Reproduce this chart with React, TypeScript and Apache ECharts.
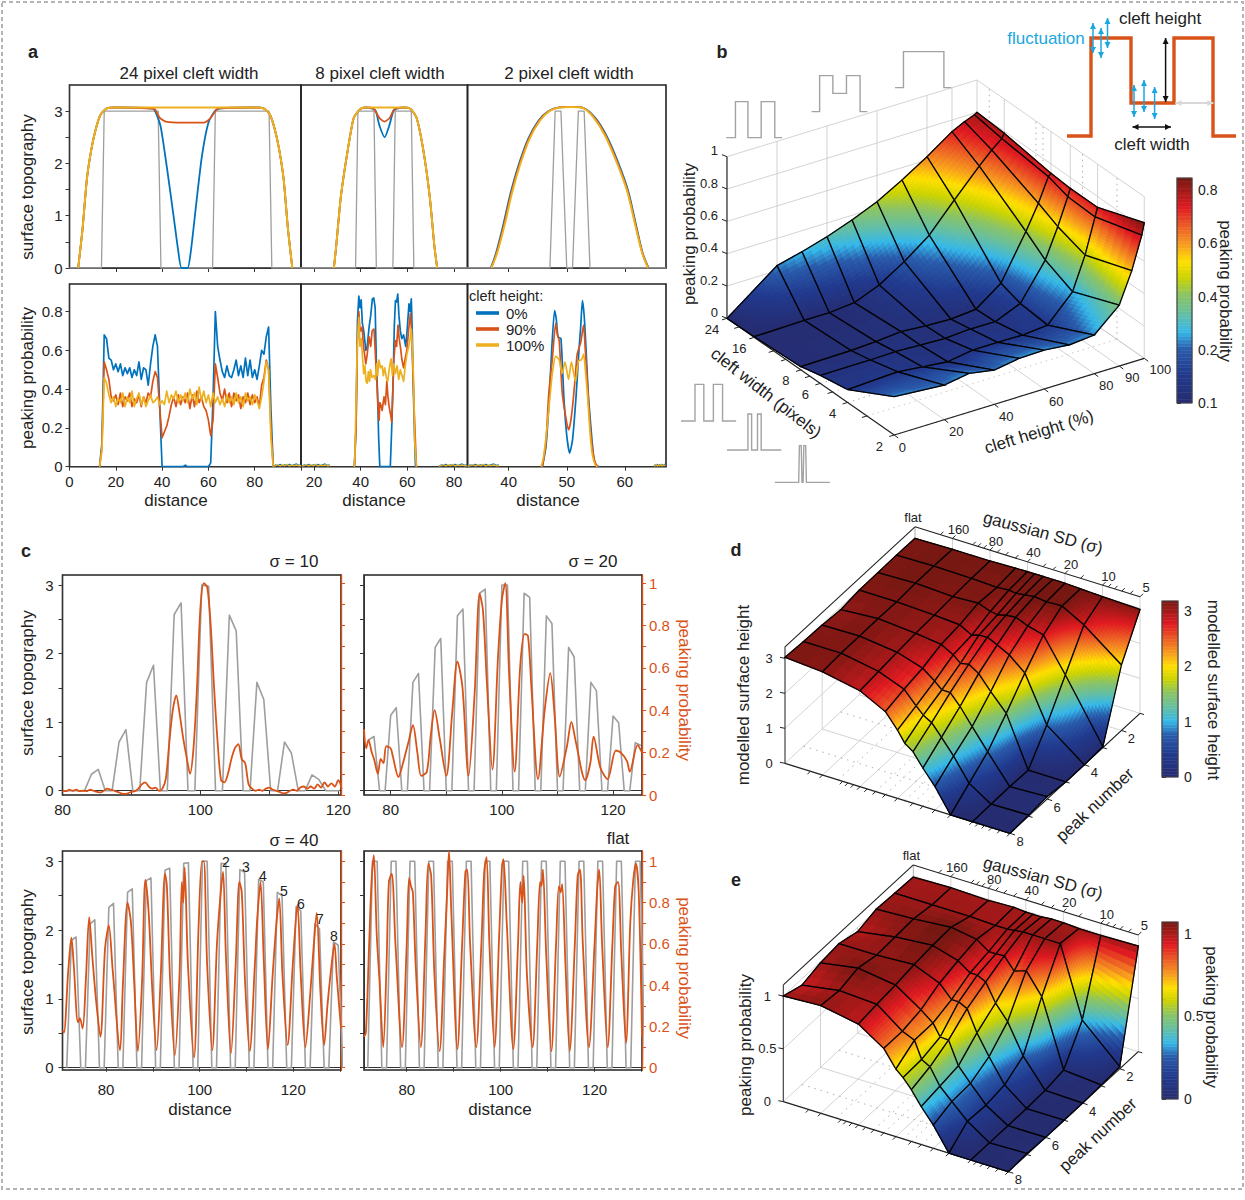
import React, { useEffect, useRef } from "react";
import * as echarts from "echarts";

const FF = '"Liberation Sans", Arial, sans-serif';
const BLUE = "#0072bd", RED = "#d95319", YEL = "#edb120", GRAY = "#9e9e9e", CY = "#1aa7e0";
type Pt = [number, number];
const atX = (start: number, step: number, ys: number[]): Pt[] => ys.map((y, i) => [start + i * step, y] as Pt);

// ---------- panel a : top row ----------
const a1Gray: Pt[] = [[0,0],[13.8,0],[15,3],[38.3,3],[39.5,0],[61.8,0],[63,3],[86.2,3],[87.4,0],[100,0]];
const a1OutL: Pt[] = [[3.75,0],[5.6,.73],[7.5,1.7],[9.4,2.26],[11.3,2.65],[13.5,2.94],[16,3.05],[20,3.07]];
const a1OutR: Pt[] = [[80,3.07],[84,3.05],[86.5,2.94],[88.7,2.65],[90.6,2.26],[92.5,1.7],[94.4,.73],[96.25,0]];
const a1BlueMid: Pt[] = [[36,3.05],[37,3],[39.4,2.7],[42.2,1.88],[45,.98],[46.9,.35],[48.4,0],[51,0],[52.5,.35],[54.8,1.25],[57.2,2.14],[60,2.78],[62.8,3],[64.7,3.05]];
const a1RedMid: Pt[] = [[36,3.05],[37,3.03],[39,2.87],[41.6,2.8],[48.8,2.78],[58,2.78],[61,2.87],[63.4,3.03],[65,3.06]];
const a1YelMid: Pt[] = [[50,3.07]];
const a2Gray: Pt[] = [[14.4,0],[37.8,0],[38.8,3],[45.7,3],[46.7,0],[53.8,0],[54.8,3],[61.7,3],[62.8,0],[85.8,0]];
const a2OutL: Pt[] = [[28.5,0],[29.5,.42],[31.5,1.37],[34.5,2.27],[37,2.87],[39.8,3.04],[42,3.07]];
const a2OutR: Pt[] = [[59,3.07],[61.5,3.04],[64,2.87],[66.8,2.27],[69.6,1.37],[71.6,.42],[72.8,0]];
const a2BlueMid: Pt[] = [[45,3.05],[46.5,3],[48,2.73],[50.3,2.5],[52.3,2.73],[54,3],[55.5,3.05]];
const a2RedMid: Pt[] = [[45.5,3.05],[48,2.87],[50.2,2.8],[52.4,2.87],[54.5,3.04]];
const a2YelMid: Pt[] = [[50,3.07]];
const a3Gray: Pt[] = [[32.9,0],[47.1,0],[48,3],[49,3],[50,0],[51,0],[52,3],[53,3],[54,0],[67.1,0]];
const a3Blue: Pt[] = [[36.9,0],[37.8,.28],[39.05,.82],[40.25,1.4],[41.65,1.95],[43.35,2.47],[45.15,2.82],[46.8,3],[48.7,3.07],[50.8,3.08],[52.9,3.06],[54.85,2.88],[56.85,2.53],[58.85,2.02],[60.6,1.47],[61.95,.82],[63.1,.28],[64.1,0]];
const a3Red: Pt[] = [[37,0],[37.9,.28],[39.17,.82],[40.37,1.4],[41.77,1.95],[43.47,2.47],[45.27,2.82],[46.9,3],[48.75,3.07],[50.8,3.08],[52.85,3.06],[54.72,2.88],[56.72,2.53],[58.72,2.02],[60.5,1.47],[61.87,.82],[63.05,.28],[64.05,0]];
const a3Yel: Pt[] = [[37,0],[38,.28],[39.3,.82],[40.5,1.4],[41.9,1.95],[43.6,2.47],[45.4,2.82],[47,3],[48.8,3.07],[50.8,3.08],[52.8,3.06],[54.6,2.88],[56.6,2.53],[58.6,2.02],[60.4,1.47],[61.8,.82],[63,.28],[64,0]];

// ---------- panel a : bottom row ----------
const b1Blue = [0,.12,.68,.66,.56,.55,.5,.53,.49,.53,.47,.51,.48,.51,.46,.5,.47,.54,.45,.51,.5,.42,.53,.62,.68,.62,.3,0,0,0,0,0,0,0,0,0,0,.008,0,0,0,0,0,0,0,0,0,0,.02,.35,.8,.62,.55,.49,.46,.52,.47,.46,.5,.55,.47,.52,.46,.56,.47,.55,.46,.5,.45,.52,.6,.58,.67,.72,.3,0];
const b1Red = [0,.1,.54,.5,.45,.36,.34,.37,.32,.38,.31,.36,.34,.38,.31,.35,.33,.37,.31,.36,.33,.38,.36,.44,.49,.46,.3,.15,.18,.21,.26,.32,.36,.31,.37,.32,.36,.33,.38,.3,.37,.31,.39,.33,.36,.31,.29,.24,.16,.24,.53,.46,.38,.34,.4,.33,.38,.31,.38,.34,.37,.3,.36,.33,.38,.32,.37,.33,.36,.31,.42,.46,.55,.5,.2,0];
const b1Yel = [0,.08,.46,.43,.37,.33,.36,.31,.35,.33,.38,.31,.36,.33,.39,.31,.35,.38,.32,.36,.31,.34,.37,.33,.34,.36,.32,.34,.32,.39,.33,.37,.35,.39,.33,.37,.34,.38,.33,.4,.35,.38,.32,.41,.34,.39,.33,.37,.31,.38,.33,.36,.32,.35,.31,.37,.33,.36,.32,.38,.33,.36,.31,.38,.34,.36,.32,.37,.34,.3,.36,.44,.54,.5,.15,0];
const floorA = [.002,.009,.006,.012,.005,.01,.007,.012,.006,.01,.014,.007,.01];
const floorB = [.003,.005,.01,.004,.009,.005,.012,.004,.008,.006,.009,.005,.006];
const b2Blue: Pt[] = [[37.3,0],[38,.2],[38.6,.75],[39.2,.88],[39.7,.82],[40.2,.86],[40.7,.74],[41.3,.7],[42.2,.6],[42.8,.62],[43.6,.72],[44.3,.78],[45,.865],[45.6,.87],[46.2,.82],[46.7,.55],[47.2,.39],[47.7,.15],[48.2,0],[52.7,0],[53.3,.2],[53.9,.44],[54.4,.72],[54.9,.857],[55.4,.85],[55.9,.89],[56.4,.78],[57,.7],[57.6,.66],[58.4,.68],[59.3,.62],[59.9,.7],[60.7,.84],[61.2,.8],[61.7,.865],[62.1,.7],[62.5,.44],[63,.2],[63.5,0]];
const b2Red: Pt[] = [[37.3,0],[38,.2],[38.6,.65],[39.2,.8],[39.6,.72],[40,.7],[40.6,.72],[41.2,.62],[42.2,.53],[42.8,.58],[43.6,.67],[44.3,.62],[44.9,.7],[45.7,.71],[46.3,.58],[46.9,.44],[47.4,.32],[47.9,.24],[48.2,.33],[48.6,.32],[49.2,.29],[50,.36],[50.6,.32],[51.2,.44],[51.7,.36],[52.2,.31],[52.8,.27],[53.3,.23],[53.8,.4],[54.2,.55],[54.9,.65],[55.4,.62],[56,.73],[56.5,.66],[57,.62],[57.7,.55],[58.4,.51],[59.1,.56],[59.8,.6],[60.5,.7],[61.3,.79],[61.7,.72],[62,.62],[62.5,.45],[63,.27],[63.9,0]];
const b2Yel: Pt[] = [[37.1,0],[37.5,.05],[37.9,.27],[38.5,.62],[39.2,.77],[39.7,.62],[40.2,.66],[40.7,.58],[41.3,.48],[41.8,.52],[42.3,.44],[42.8,.43],[43.3,.49],[43.8,.44],[44.2,.5],[44.9,.46],[45.7,.47],[46.3,.45],[46.9,.53],[47.3,.47],[47.8,.55],[48.5,.51],[49.2,.52],[49.7,.47],[50.3,.51],[51,.46],[51.6,.44],[52.3,.51],[53,.556],[53.6,.47],[54.2,.53],[54.9,.48],[55.6,.52],[56.3,.45],[57,.5],[57.7,.47],[58.4,.44],[59.1,.52],[59.8,.58],[60.6,.62],[61.2,.66],[61.7,.71],[62.2,.6],[62.7,.44],[63.2,.12],[63.9,0]];
const b3Blue: Pt[] = [[45.8,0],[46.4,.1],[46.9,.31],[47.4,.6],[47.9,.805],[48.2,.76],[48.5,.67],[49,.66],[49.5,.36],[50,.16],[50.5,.07],[51,.14],[51.6,.36],[52.1,.6],[52.4,.72],[52.7,.857],[53,.78],[53.3,.62],[53.7,.38],[54.2,.19],[54.6,.06],[55,.01],[55.6,0]];
const b3Red: Pt[] = [[45.8,0],[46.4,.12],[46.9,.375],[47.5,.55],[48.1,.74],[48.4,.68],[48.7,.65],[49.2,.39],[49.7,.28],[50.3,.19],[50.6,.22],[51,.31],[51.4,.44],[51.8,.58],[52.4,.64],[52.9,.73],[53.2,.6],[53.6,.41],[54,.22],[54.4,.1],[54.9,.02],[55.4,0]];
const b3Yel: Pt[] = [[45.6,0],[46,.05],[46.6,.2],[47.2,.39],[47.6,.5],[48.1,.57],[48.7,.55],[49.2,.48],[49.7,.54],[50.3,.45],[50.8,.54],[51.5,.44],[52.1,.55],[52.5,.55],[52.9,.58],[53.2,.5],[53.6,.36],[54,.18],[54.4,.065],[54.9,.01],[55.3,0]];

// ---------- panel c ----------
const c1Gray = [0,0,0,0,.24,.31,0,0,.71,.89,0,0,1.58,1.83,0,0,2.57,2.74,0,0,3,2.98,0,0,2.56,2.33,0,0,1.58,1.33,0,0,.71,.55,0,0,.23,.16,0,0,0];
const c1Org = [.02,.018,.025,.02,.025,.018,.02,.018,.025,.02,.015,.012,.02,.03,.025,.02,.015,.008,.005,.008,.015,.018,.03,.05,.06,.04,.03,.035,.02,.03,.08,.25,.4,.47,.38,.27,.18,.1,.22,.5,.88,1,.98,.8,.5,.25,.07,.06,.1,.17,.22,.24,.17,.15,.05,.03,.02,.025,.02,.03,.035,.025,.02,.015,.008,.01,.02,.025,.02,.035,.04,.03,.04,.03,.05,.035,.06,.04,.055,.04,.07,.03];
const c2Gray = [.74,.79,0,0,1.1,1.21,0,0,1.58,1.71,0,0,2.09,2.22,0,0,2.55,2.65,0,0,2.88,2.94,0,0,3,3,0,0,2.88,2.82,0,0,2.55,2.44,0,0,2.09,1.95,0,0,1.58,1.46,0,0,1.09,.99,0,0,.7,.66];
const c2Org: Pt[] = [[75.2,.31],[75.6,.22],[76,.26],[76.6,.2],[77,.17],[77.7,.1],[78.2,.17],[78.7,.15],[79.2,.23],[80,.22],[80.4,.18],[81.4,.085],[82,.13],[83.2,.25],[84,.33],[84.8,.2],[85.5,.09],[86.5,.11],[87.2,.28],[87.9,.4],[88.8,.27],[90,.09],[91.1,.4],[92,.63],[92.9,.51],[94,.09],[95.1,.48],[96,.95],[96.6,.87],[97.3,.53],[98.3,.12],[99.3,.65],[100,.92],[100.6,1],[101.3,.57],[102.3,.11],[103.3,.61],[104.1,.76],[104.7,.75],[105.3,.51],[106.5,.075],[107.7,.4],[108.7,.575],[109.5,.37],[110.4,.087],[111.7,.23],[112.5,.345],[113.3,.25],[115,.07],[115.9,.15],[116.5,.275],[117.7,.13],[119,.075],[120.5,.21],[121.4,.2],[122.5,.16],[123,.11],[124.4,.235],[125.2,.2]];
const c3Gray = [0,1.85,1.9,0,0,2.09,2.15,0,0,2.33,2.39,0,0,2.55,2.6,0,0,2.72,2.76,0,0,2.87,2.9,0,0,2.97,2.98,0,0,3,3,0,0,2.97,2.96,0,0,2.88,2.84,0,0,2.74,2.7,0,0,2.55,2.5,0,0,2.34,2.28,0,0,2.09,2.02,0,0,1.83,1.78,0];
const c3Org: Pt[] = [[70.7,.18],[71,.17],[71.9,.46],[72.6,.63],[73.1,.5],[74,.22],[74.4,.24],[75,.19],[75.7,.43],[76.4,.73],[77.1,.53],[77.9,.32],[78.8,.15],[79.8,.58],[80.6,.69],[81.4,.48],[83,.085],[83.6,.4],[84.6,.8],[85.3,.71],[86,.42],[86.8,.08],[87.7,.42],[88.4,.91],[89.1,.755],[89.9,.37],[90.8,.085],[91.7,.45],[92.6,.94],[93,.88],[93.7,.42],[94.7,.06],[95.7,.45],[96.2,.9],[96.5,.8],[96.8,.97],[97.5,.5],[98.8,.05],[99.8,.7],[100.5,1],[100.9,1],[101.6,.5],[102.7,.085],[103.7,.6],[104.4,.82],[105,.95],[105.6,.55],[106.7,.07],[107.7,.5],[108.5,.9],[109,.85],[109.7,.42],[110.7,.08],[111.8,.5],[112.3,.72],[113,.9],[113.7,.52],[114.6,.09],[115.6,.45],[116.4,.7],[117,.82],[117.7,.45],[118.8,.11],[119.9,.5],[120.9,.79],[121.6,.45],[122.6,.1],[123.6,.35],[124.4,.6],[125,.75],[125.8,.37],[126.6,.11],[127.3,.3],[128,.46],[128.8,.6],[129.3,.44],[130.2,.19]];
const c4Gray = [0,3,3,0,0,3,3,0,0,3,3,0,0,3,3,0,0,3,3,0,0,3,3,0,0,3,3,0,0,3,3,0,0,3,3,0,0,3,3,0,0,3,3,0,0,3,3,0,0,3,3,0,0,3,3,0,0,3,3,0];
const c4Org: Pt[] = [[70.9,.15],[71.3,.17],[72,.6],[72.5,.9],[73,1.03],[73.6,.65],[74.2,.42],[75,.1],[75.7,.5],[76.2,.9],[76.8,.94],[77.6,.6],[79,.1],[80,.6],[80.5,.92],[80.9,.88],[81.3,.85],[81.9,.5],[83,.1],[84,.65],[84.6,.99],[85.2,.93],[85.9,.45],[87,.08],[88,.55],[88.6,.85],[89,1.05],[89.5,.75],[90.8,.09],[91.8,.6],[92.5,.95],[92.9,.96],[93.5,.6],[94.8,.1],[95.9,.6],[96.5,.95],[97,1.02],[97.6,.6],[98.7,.1],[99.7,.65],[100.3,.98],[100.6,1.01],[101.3,.7],[102.7,.09],[103.7,.6],[104.2,.9],[104.6,.8],[104.9,.93],[105.6,.45],[106.8,.1],[107.8,.6],[108.4,.9],[108.7,.88],[109,.96],[109.7,.55],[110.8,.08],[111.8,.6],[112.4,.88],[112.8,.85],[113.1,.89],[113.8,.5],[114.7,.08],[115.8,.6],[116.4,.93],[116.9,.96],[117.5,.6],[118.8,.1],[120,.6],[120.6,.88],[121,.96],[121.6,.6],[122.8,.1],[123.8,.6],[124.4,.88],[125,.9],[125.7,.55],[126.7,.12],[127.6,.7],[128.2,.9],[128.8,.99],[129.4,.85],[130.1,.15]];
const peakTags = ["2","3","4","5","6","7","8"];
const peakTagPos: Pt[] = [[226,862],[246,867],[263,876],[284,891],[301,904],[320,919],[334,936]];

// ---------- surfaces ----------
const bWidths = [24,16,8,6,4,2];
const bHeights = [0,20,30,40,50,60,70,80,90,95,99,100];
const bZ = [
  [0,.231,.27,.315,.371,.437,.524,.62,.728,.766,.79,.8],
  [.004,.01,.01,.025,.087,.184,.3,.47,.633,.708,.76,.788],
  [.02,.025,.033,.047,.035,.029,.043,.157,.429,.58,.726,.742],
  [.05,.05,.054,.047,.041,.052,.05,.115,.336,.519,.685,.732],
  [.08,.095,.078,.062,.087,.087,.085,.099,.258,.461,.678,.732],
  [.237,.214,.239,.212,.237,.241,.225,.239,.377,.566,.767,.839],
];
const sigmas = [320,160,80,50,40,35,30,25,20,15,10,5];
const peaks = [1,2,3,4,5,6,7,8];
const dZ = [
  [3,3.02,3.02,3.04,3.05,3.05,3.05,3.05,3.05,3.03,3,2.97],
  [3.01,3.03,3.01,2.98,3.01,2.98,3.01,3.05,3.01,3.03,2.68,1.87],
  [3,3.03,2.98,3.02,2.89,2.86,2.92,2.95,2.81,2.69,1.74,.03],
  [2.99,2.99,2.94,2.89,2.7,2.77,2.78,2.65,2.47,2.09,.8,0],
  [2.92,3,2.91,2.82,2.63,2.45,2.5,2.32,1.91,1.43,0,0],
  [2.97,2.99,2.86,2.63,2.37,2.18,2.18,1.87,1.4,.82,.02,.07],
  [2.99,2.99,2.8,2.52,2.15,1.95,1.81,1.48,1.05,.41,.01,.03],
  [3.03,2.95,2.74,2.37,1.95,1.64,1.47,1.09,.67,0,0,0],
];
const eZ = [
  [.99,1,.99,1,.99,.99,.99,1,1,.99,.99,1],
  [1,1,1,.99,.99,1,1.01,1.01,1.01,1.01,.35,.02],
  [1.01,1.03,1.06,1.02,.94,.94,.945,.83,.87,.67,.04,.01],
  [.96,1.02,1.05,.98,.9,.9,.86,.69,.55,.27,.01,0],
  [1.01,1.01,1.03,.93,.81,.81,.77,.57,.38,.16,0,0],
  [.99,1.05,1,.84,.75,.64,.635,.42,.29,.13,0,0],
  [.94,1,.98,.8,.75,.59,.545,.39,.28,.14,0,.01],
  [1,1.02,.955,.8,.64,.58,.49,.36,.22,0,0,0],
];

const projB = (h: number, w: number, z: number): Pt => {
  const t = Math.log(w / 2) / Math.log(12);
  return [670 + (610 + 6.8 * h - 455 * t) / 2.72, (1305 - 2.3 * h - 350 * t - 485 * z) / 3];
};
const uOf = (s: number) => Math.log2(320 / s) / 6;
const projD = (s: number, p: number, z: number): Pt => {
  const u = uOf(s), v = (8 - p) / 7;
  return [720 + (195 + 675 * u + 390 * v) / 3, 500 + (790 + 210 * u - 360 * v - 105 * z) / 3];
};
const projE = (s: number, p: number, z: number): Pt => {
  const u = uOf(s), v = (8 - p) / 7;
  return [720 + (190 + 675 * u + 390 * v) / 3, 840 + (785 + 210 * u - 360 * v - 317 * z) / 3];
};

const STOPS: [number, number[]][] = [
  [0,[38,44,112]],[.13,[34,58,142]],[.24,[42,92,172]],[.315,[54,184,234]],[.4,[103,191,160]],[.48,[140,196,100]],
  [.56,[205,212,0]],[.63,[255,224,0]],[.7,[248,160,30]],[.77,[238,106,37]],[.87,[224,27,34]],[1,[118,24,18]],
];
const cmap = (f0: number) => {
  const f = Math.max(0, Math.min(1, f0));
  for (let i = 1; i < STOPS.length; i++) {
    if (f <= STOPS[i][0]) {
      const [a, ca] = STOPS[i - 1], [b, cb] = STOPS[i];
      const k = (f - a) / (b - a);
      const c = ca.map((x, n) => Math.round(x + (cb[n] - x) * k));
      return `rgb(${c[0]},${c[1]},${c[2]})`;
    }
  }
  return "rgb(118,24,18)";
};

function surfaceSeries(rows: number[], cols: number[], Z: number[][], proj: (c: number, r: number, z: number) => Pt, cmax: number, colDesc: boolean) {
  const cells: [number, number][] = [];
  for (let i = 0; i < rows.length - 1; i++) {
    for (let jj = 0; jj < cols.length - 1; jj++) {
      cells.push([i, colDesc ? cols.length - 2 - jj : jj]);
    }
  }
  return {
    type: "custom", coordinateSystem: "none", silent: true, z: 3,
    data: cells.map((_, i) => [i]),
    renderItem: (params: any) => {
      const [i, j] = cells[params.dataIndex];
      const zv = [Z[i][j], Z[i][j + 1], Z[i + 1][j + 1], Z[i + 1][j]];
      const pts = [proj(cols[j], rows[i], zv[0]), proj(cols[j + 1], rows[i], zv[1]), proj(cols[j + 1], rows[i + 1], zv[2]), proj(cols[j], rows[i + 1], zv[3])];
      const du = Math.max(Math.abs(zv[1] - zv[0]), Math.abs(zv[2] - zv[3]));
      const dv = Math.max(Math.abs(zv[3] - zv[0]), Math.abs(zv[2] - zv[1]));
      const Nu = Math.max(2, Math.min(16, Math.ceil(du / cmax * 48)));
      const Nv = Math.max(2, Math.min(16, Math.ceil(dv / cmax * 48)));
      const bil = (a: number, b: number, q: number[]) => (1 - a) * (1 - b) * q[0] + a * (1 - b) * q[1] + a * b * q[2] + (1 - a) * b * q[3];
      const X = pts.map((p) => p[0]), Y = pts.map((p) => p[1]);
      const children: any[] = [];
      for (let a = 0; a < Nu; a++) for (let b = 0; b < Nv; b++) {
        const a0 = a / Nu, a1 = (a + 1) / Nu, b0 = b / Nv, b1 = (b + 1) / Nv;
        const col = cmap(bil((a0 + a1) / 2, (b0 + b1) / 2, zv) / cmax);
        children.push({
          type: "polygon",
          shape: { points: [[bil(a0, b0, X), bil(a0, b0, Y)], [bil(a1, b0, X), bil(a1, b0, Y)], [bil(a1, b1, X), bil(a1, b1, Y)], [bil(a0, b1, X), bil(a0, b1, Y)]] },
          style: { fill: col, stroke: col, lineWidth: 1.1 },
        });
      }
      children.push({ type: "polygon", shape: { points: pts }, style: { fill: "none", stroke: "#000", lineWidth: 1.3 } });
      return { type: "group", children };
    },
  };
}

// graphic helpers
const T = (text: string, x: number, y: number, o: any = {}) => ({
  type: "text", x, y, rotation: o.rot || 0, z: o.z ?? 20, silent: true,
  style: { text, fill: o.color || "#222", font: `${o.weight || "normal"} ${o.size || 17}px ${FF}`, align: o.align || "center", verticalAlign: "middle" },
});
const L = (a: Pt, b: Pt, o: any = {}) => ({
  type: "line", z: o.z ?? 0, silent: true,
  shape: { x1: a[0], y1: a[1], x2: b[0], y2: b[1] },
  style: { stroke: o.color || "#c8c8c8", lineWidth: o.w || 0.8, lineDash: o.dash },
});
const off = (p: Pt, d: Pt): Pt => [p[0] + d[0], p[1] + d[1]];
const arrow2 = (a: Pt, b: Pt, color: string, w = 1.5) => {
  const dx = b[0] - a[0], dy = b[1] - a[1], n = Math.hypot(dx, dy), ux = dx / n, uy = dy / n, s = 6, h = 3;
  const head = (p: Pt, sgn: number) => ({
    type: "polygon", z: 21, silent: true,
    shape: { points: [p, [p[0] - sgn * ux * s - uy * h, p[1] - sgn * uy * s + ux * h], [p[0] - sgn * ux * s + uy * h, p[1] - sgn * uy * s - ux * h]] },
    style: { fill: color },
  });
  return [L(a, b, { color, w, z: 21 }), head(b, 1), head(a, -1)];
};
const zb = (X: number, Y: number): Pt => [670 + X / 2.72, Y / 3];

const pulseSets: number[][][] = [
  [[153,413],[178,413],[178,305],[212,305],[212,413],[248,413],[248,305],[285,305],[285,413],[305,413]],
  [[385,335],[407,335],[407,227],[443,227],[443,280],[480,280],[480,227],[517,227],[517,335],[537,335]],
  [[612,263],[635,263],[635,155],[745,155],[745,263],[765,263]],
  [[30,1263],[68,1263],[68,1153],[92,1153],[92,1263],[118,1263],[118,1153],[143,1153],[143,1263],[180,1263]],
  [[155,1350],[212,1350],[212,1242],[222,1242],[222,1350],[238,1350],[238,1242],[248,1242],[248,1350],[303,1350]],
  [[285,1447],[350,1447],[352,1337],[357,1337],[359,1447],[362,1447],[364,1337],[369,1337],[371,1447],[435,1447]],
];
const diagram = [[1067,136],[1091,136],[1091,38],[1131,38],[1131,103],[1174,103],[1174,38],[1213,38],[1213,136],[1236,136]];
const fluctTop: number[][] = [[1093,23,53],[1101,28,58],[1107.5,18,48]];
const fluctLow: number[][] = [[1134,85,117],[1144,80,112],[1154.6,87,119]];

function buildOption() {
  const grid: any[] = [], xAxis: any[] = [], yAxis: any[] = [], series: any[] = [], g: any[] = [];
  const lab = { fontFamily: FF, fontSize: 15, color: "#222" };
  const addGrid = (o: any) => {
    const gi = grid.length;
    grid.push({ left: o.l, top: o.t, width: o.r - o.l, height: o.b - o.t, show: true, borderColor: "#222", borderWidth: 1.6, backgroundColor: "transparent" });
    xAxis.push({
      type: "value", gridIndex: gi, min: o.x0, max: o.x1, splitLine: { show: false },
      axisLine: { show: true, lineStyle: { color: "#333", width: 1 } }, minorTick: { show: false },
      axisTick: { show: true, length: 4, customValues: o.xt, lineStyle: { color: "#333" } },
      axisLabel: o.xl ? { ...lab, show: true, margin: o.xm || 7, customValues: o.xl } : { show: false },
    });
    const xi = xAxis.length - 1;
    yAxis.push({
      type: "value", gridIndex: gi, min: o.y0, max: o.y1, splitLine: { show: false },
      show: o.yShow !== false,
      axisLine: { show: true, lineStyle: { color: "#333", width: 1 } },
      axisTick: { show: true, length: 4, customValues: o.yt, lineStyle: { color: "#333" } },
      axisLabel: o.yl ? { ...lab, show: true, margin: o.ym || 7, customValues: o.yl } : { show: false },
    });
    const yi = yAxis.length - 1;
    let y2 = -1;
    if (o.y2) {
      yAxis.push({
        type: "value", gridIndex: gi, position: "right", min: o.y2[0], max: o.y2[1], splitLine: { show: false },
        axisLine: { show: true, lineStyle: { color: RED, width: 1.4 } },
        axisTick: { show: true, length: 4, customValues: [0,.1,.2,.3,.4,.5,.6,.7,.8,.9,1], lineStyle: { color: RED } },
        axisLabel: o.y2l ? { ...lab, color: RED, show: true, margin: 7, customValues: o.y2l } : { show: false },
      });
      y2 = yAxis.length - 1;
    }
    return { xi, yi, y2 };
  };
  const line = (ax: any, yi: number, data: Pt[], color: string, w = 1.7, smooth: any = 0.2) => {
    series.push({ type: "line", xAxisIndex: ax.xi, yAxisIndex: yi, data, symbol: "none", silent: true, smooth, z: 4,
      lineStyle: { color, width: w, join: "round" } });
  };

  // ---------- panel a
  const t = { t: 85, b: 268, y0: 0, y1: 3.5 };
  const bt = { t: 284, b: 466.7, y0: 0, y1: .942 };
  const top1 = addGrid({ ...t, l: 69.5, r: 301, x0: 0, x1: 100, xt: [20,40,60,80], yt: [0,.5,1,1.5,2,2.5,3], yl: [0,1,2,3] });
  const top2 = addGrid({ ...t, l: 301, r: 467.5, x0: 14.4, x1: 85.8, xt: [20,40,60,80], yShow: false });
  const top3 = addGrid({ ...t, l: 467.5, r: 666, x0: 32.9, x1: 67.1, xt: [40,50,60], yShow: false });
  const bot1 = addGrid({ ...bt, l: 69.5, r: 301, x0: 0, x1: 100, xt: [0,20,40,60,80,100], xl: [0,20,40,60,80], yt: [0,.2,.4,.6,.8], yl: [0,.2,.4,.6,.8] });
  const bot2 = addGrid({ ...bt, l: 301, r: 467.5, x0: 14.4, x1: 85.8, xt: [20,40,60,80], xl: [20,40,60,80], yShow: false });
  const bot3 = addGrid({ ...bt, l: 467.5, r: 666, x0: 32.9, x1: 67.1, xt: [40,50,60], xl: [40,50,60], yShow: false });

  line(top1, top1.yi, a1Gray, GRAY, 1.3, false);
  line(top1, top1.yi, [...a1OutL, ...a1BlueMid, ...a1OutR], BLUE, 1.8);
  line(top1, top1.yi, [...a1OutL, ...a1RedMid, ...a1OutR], RED, 1.8);
  line(top1, top1.yi, [...a1OutL, ...a1YelMid, ...a1OutR], YEL, 2);
  line(top2, top2.yi, a2Gray, GRAY, 1.3, false);
  line(top2, top2.yi, [...a2OutL, ...a2BlueMid, ...a2OutR], BLUE, 1.8);
  line(top2, top2.yi, [...a2OutL, ...a2RedMid, ...a2OutR], RED, 1.8);
  line(top2, top2.yi, [...a2OutL, ...a2YelMid, ...a2OutR], YEL, 2);
  line(top3, top3.yi, a3Gray, GRAY, 1.3, false);
  line(top3, top3.yi, a3Blue, BLUE, 1.8, .3);
  line(top3, top3.yi, a3Red, RED, 1.8, .3);
  line(top3, top3.yi, a3Yel, YEL, 1.9, .3);

  line(bot1, bot1.yi, atX(13, 1, b1Blue), BLUE, 1.7, false);
  line(bot1, bot1.yi, atX(13, 1, b1Red), RED, 1.7, false);
  line(bot1, bot1.yi, atX(13, 1, b1Yel), YEL, 1.7, false);
  line(bot1, bot1.yi, atX(88, 1, floorA), BLUE, 1.3, false);
  line(bot1, bot1.yi, atX(88, 1, floorB), YEL, 1.3, false);
  line(bot2, bot2.yi, b2Blue, BLUE, 1.7, false);
  line(bot2, bot2.yi, b2Red, RED, 1.7, false);
  line(bot2, bot2.yi, b2Yel, YEL, 1.7, false);
  line(bot2, bot2.yi, atX(14.7, 1, floorA), BLUE, 1.3, false);
  line(bot2, bot2.yi, atX(14.7, 1, floorB), YEL, 1.3, false);
  line(bot2, bot2.yi, atX(73.5, 1, floorA), BLUE, 1.3, false);
  line(bot2, bot2.yi, atX(73.5, 1, floorB), YEL, 1.3, false);
  line(bot3, bot3.yi, b3Blue, BLUE, 1.7, .2);
  line(bot3, bot3.yi, b3Red, RED, 1.7, .2);
  line(bot3, bot3.yi, b3Yel, YEL, 1.7, .2);
  line(bot3, bot3.yi, atX(32.9, .45, floorA), BLUE, 1.3, false);
  line(bot3, bot3.yi, atX(32.9, .45, floorB), YEL, 1.3, false);
  line(bot3, bot3.yi, atX(65, .2, floorA.slice(0, 11)), BLUE, 1.3, false);
  line(bot3, bot3.yi, atX(65, .2, floorB.slice(0, 11)), YEL, 1.3, false);

  g.push(T("24 pixel cleft width", 189, 73), T("8 pixel cleft width", 380, 73), T("2 pixel cleft width", 569, 73));
  g.push(T("surface topography", 27, 187, { rot: Math.PI / 2 }), T("peaking probability", 27, 378, { rot: Math.PI / 2 }));
  g.push(T("distance", 176, 500), T("distance", 374, 500), T("distance", 548, 500));
  g.push(T("a", 33, 52, { size: 18, weight: "bold" }), T("b", 722, 52, { size: 18, weight: "bold" }), T("c", 26, 551, { size: 18, weight: "bold" }),
    T("d", 736, 550, { size: 18, weight: "bold" }), T("e", 736, 880, { size: 18, weight: "bold" }));
  g.push(T("cleft height:", 469, 296, { size: 14.5, align: "left" }));
  [["0%", BLUE, 313], ["90%", RED, 329], ["100%", YEL, 345]].forEach(([s, c, y]: any) => {
    g.push(L([476, y], [499, y], { color: c, w: 3.6, z: 21 }), T(s, 506, y, { size: 15, align: "left" }));
  });

  // ---------- panel c
  const row1 = { t: 575, b: 795, y0: -.063, y1: 3.146 };
  const row2 = { t: 851, b: 1070, y0: -.033, y1: 3.15 };
  const yt = [0,.5,1,1.5,2,2.5,3], yl = [0,1,2,3], yo = [0,.2,.4,.6,.8,1];
  const c1 = addGrid({ ...row1, l: 62.5, r: 341, x0: 80, x1: 120.4, xt: [80,90,100,110,120], xl: [80,100,120], yt, yl, ym: 9, y2: [0, 1.038] });
  const c2 = addGrid({ ...row1, l: 364, r: 642, x0: 75.2, x1: 125.2, xt: [80,90,100,110,120], xl: [80,100,120], yt, y2: [0, 1.038], y2l: yo });
  const c3 = addGrid({ ...row2, l: 62.5, r: 341, x0: 70.7, x1: 130.2, xt: [80,90,100,110,120,130], xl: [80,100,120], xm: 12, yt, yl, ym: 9, y2: [-.011, 1.05] });
  const c4 = addGrid({ ...row2, l: 364, r: 642, x0: 70.9, x1: 130.1, xt: [80,90,100,110,120,130], xl: [80,100,120], xm: 12, yt, y2: [-.011, 1.05], y2l: yo });
  line(c1, c1.yi, atX(80.2, 1, c1Gray), GRAY, 1.6, false);
  line(c1, c1.y2, atX(80, .5, c1Org), RED, 1.8, .3);
  line(c2, c2.yi, atX(76, 1, c2Gray), GRAY, 1.6, false);
  line(c2, c2.y2, c2Org, RED, 1.8, .3);
  line(c3, c3.yi, atX(71.6, 1, c3Gray), GRAY, 1.6, false);
  line(c3, c3.y2, c3Org, RED, 1.8, .3);
  line(c4, c4.yi, atX(71.7, 1, c4Gray), GRAY, 1.6, false);
  line(c4, c4.y2, c4Org, RED, 1.8, .3);
  g.push(T("σ = 10", 294, 561), T("σ = 20", 593, 561), T("σ = 40", 294, 840), T("flat", 618, 838));
  g.push(T("surface topography", 27, 683, { rot: Math.PI / 2 }), T("surface topography", 27, 962, { rot: Math.PI / 2 }));
  g.push(T("peaking probability", 684, 690, { rot: -Math.PI / 2, color: RED }), T("peaking probability", 684, 968, { rot: -Math.PI / 2, color: RED }));
  g.push(T("distance", 200, 1109), T("distance", 500, 1109));
  peakTags.forEach((s, i) => g.push(T(s, peakTagPos[i][0], peakTagPos[i][1], { size: 14 })));

  // ---------- colourbars
  const levels = Array.from({ length: 64 }, (_, i) => [i / 64, (i + 1) / 64]);
  const cbar = (l: number, r: number, tp: number, bt2: number, vmax: number, ticks: number[], labels: number[], fmt: any) => {
    const gi = grid.length;
    grid.push({ left: l, top: tp, width: r - l, height: bt2 - tp, show: false });
    xAxis.push({ type: "value", gridIndex: gi, min: 0, max: 1, show: false });
    yAxis.push({
      type: "value", gridIndex: gi, position: "right", min: 0, max: 1, splitLine: { show: false },
      axisLine: { show: false },
      axisTick: { show: true, length: 4, customValues: ticks.map((v) => v / vmax), lineStyle: { color: "#333" } },
      axisLabel: { ...lab, fontSize: 14, margin: 6, customValues: labels.map((v) => v / vmax), formatter: (v: number) => fmt(Math.round(v * vmax * 10) / 10) },
    });
    series.push({
      type: "custom", coordinateSystem: "cartesian2d", xAxisIndex: xAxis.length - 1, yAxisIndex: yAxis.length - 1, silent: true, data: levels,
      renderItem: (_: any, api: any) => {
        const a = api.coord([0, api.value(0)]), b = api.coord([1, api.value(1)]);
        const c = cmap((api.value(0) + api.value(1)) / 2);
        return { type: "rect", shape: { x: a[0], y: b[1], width: b[0] - a[0], height: a[1] - b[1] }, style: { fill: c, stroke: c, lineWidth: .5 } };
      },
    });
    g.push({ type: "rect", z: 20, silent: true, shape: { x: l, y: tp, width: r - l, height: bt2 - tp }, style: { fill: "none", stroke: "#444", lineWidth: 1.2 } });
  };
  cbar(1177, 1192, 178, 403, .846, [0,.1,.2,.3,.4,.5,.6,.7,.8], [0,.2,.4,.6,.8], (v: number) => (v === 0 ? "0.1" : String(v)));
  cbar(1162, 1178, 601, 777, 3.18, [0,1,2,3], [0,1,2,3], (v: number) => String(v));
  cbar(1162, 1178, 922, 1099, 1.07, [0,.1,.2,.3,.4,.5,.6,.7,.8,.9,1], [0,.5,1], (v: number) => String(v));
  g.push(T("peaking probability", 1225, 291, { rot: -Math.PI / 2 }));
  g.push(T("modelled surface height", 1213, 690, { rot: -Math.PI / 2 }));
  g.push(T("peaking probability", 1211, 1017, { rot: -Math.PI / 2 }));

  // ---------- panel b walls & axes
  const P = projB;
  [.2,.4,.6,.8,1].forEach((z) => g.push(L(P(0,24,z), P(100,24,z)), L(P(100,24,z), P(100,2,z))));
  g.push(L(P(100,24,0), P(100,2,0)), L(P(0,24,0), P(100,24,0)));
  [20,40,60,80,90,100].forEach((h) => g.push(L(P(h,24,0), P(h,24,1)), L(P(h,24,0), P(h,2,0))));
  [16,8,6,4,2].forEach((w) => g.push(L(P(100,w,0), P(100,w,1)), L(P(0,w,0), P(100,w,0), { dash: [1.5,4], color: "#999" })));
  [20,10,9,5,3].forEach((w) => g.push(L(P(100,w,0), P(100,w,1), { dash: [1.5,4], color: "#999" }), L(P(0,w,0), P(100,w,0), { dash: [1.5,4], color: "#bbb" })));
  g.push(L(P(0,24,0), P(0,24,1), { color: "#222", w: 1.2 }));
  g.push(L(P(0,24,0), P(0,2,0), { color: "#222", w: 1.2 }), L(P(0,2,0), P(100,2,0), { color: "#222", w: 1.2 }));
  [0,.2,.4,.6,.8,1].forEach((z) => {
    const p = P(0,24,z);
    g.push(L(p, off(p, [-5,-2]), { color: "#222", w: 1 }), T(String(z), p[0] - 9, p[1] - 6, { size: 13, align: "right" }));
  });
  [24,20,16,12,10,8,7,6,5,4,3,2].forEach((w) => {
    const p = P(0,w,0);
    g.push(L(p, off(p, [-5,1.5]), { color: "#222", w: 1 }));
  });
  [24,16,8,6,4,2].forEach((w) => { const p = P(0,w,0); g.push(T(String(w), p[0] - 15, p[1] + 11, { size: 13 })); });
  [[0,8,12],[20,12,12],[40,12,12],[60,12,12],[80,12,12],[90,13,11],[100,16,11]].forEach(([h,dx,dy]) => {
    const p = P(h,2,0);
    g.push(L(p, off(p, [4,3]), { color: "#222", w: 1 }), T(String(h), p[0] + dx, p[1] + dy, { size: 13 }));
  });
  g.push(T("peaking probability", 689, 234, { rot: Math.PI / 2 }));
  g.push(T("cleft width (pixels)", 766, 393, { rot: -38 * Math.PI / 180 }));
  g.push(T("cleft height (%)", 1039, 432, { rot: 17 * Math.PI / 180 }));
  pulseSets.forEach((s) => g.push({ type: "polyline", z: 5, silent: true, shape: { points: s.map((q) => zb(q[0], q[1])) }, style: { stroke: "#a3a3a3", lineWidth: 1.4, fill: "none" } }));

  // schematic
  g.push({ type: "polyline", z: 20, silent: true, shape: { points: diagram }, style: { stroke: RED, lineWidth: 3.4, fill: "none" } });
  fluctTop.concat(fluctLow).forEach(([x,a,b]) => g.push(...arrow2([x,a],[x,b],CY)));
  g.push(...arrow2([1165.6,38],[1165.6,102],"#111"), ...arrow2([1132.5,127],[1171,127],"#111"), ...arrow2([1175.5,103],[1213.4,103],"#d8d8d8",2));
  g.push(T("fluctuation", 1046, 38, { color: CY }), T("cleft height", 1160, 18), T("cleft width", 1152, 144));

  // ---------- panels d / e walls & axes
  const wall = (Q: (s: number, p: number, z: number) => Pt, zt: number, zTicks: number[], zLab: (z: number) => string) => {
    zTicks.forEach((z) => g.push(L(Q(320,8,z), Q(320,1,z)), L(Q(320,1,z), Q(5,1,z))));
    [2,4,6].forEach((p) => g.push(L(Q(320,p,0), Q(320,p,zTicks[zTicks.length - 1])), L(Q(320,p,0), Q(5,p,0))));
    [160,80,40,20,10,5].forEach((s) => g.push(L(Q(s,1,0), Q(s,1,zt)), L(Q(s,8,0), Q(s,1,0))));
    [3,5,7].forEach((p) => g.push(L(Q(320,p,0), Q(5,p,0), { dash: [1.5,5], color: "#999" })));
    [120,60,50,35,30,25,15].forEach((s) => g.push(L(Q(s,8,0), Q(s,1,0), { dash: [1.5,5], color: "#999" })));
    g.push(L(Q(320,1,0), Q(320,1,zt), { color: "#999" }));
    g.push(L(Q(320,8,zt), Q(320,1,zt), { color: "#222", w: 1.1 }), L(Q(320,1,zt), Q(5,1,zt), { color: "#222", w: 1.1 }));
    g.push(L(Q(320,8,0), Q(320,8,zt), { color: "#444", w: 1.2 }));
    g.push(L(Q(320,8,0), Q(5,8,0), { color: "#222", w: 1.2 }), L(Q(5,8,0), Q(5,1,0), { color: "#222", w: 1.2 }));
    zTicks.forEach((z) => {
      const p = Q(320,8,z);
      g.push(L(p, off(p, [-5,-1]), { color: "#222", w: 1 }), T(zLab(z), p[0] - 16, p[1], { size: 13 }));
    });
    [200,160,110,100,90,80,70,60,50,40,30,25,20,15,10,9,8,7,6,5].forEach((s) => {
      const a = Q(s,8,0), b = Q(s,1,zt);
      g.push(L(a, off(a, [-3,3]), { color: "#222", w: 1 }), L(b, off(b, [3,-3]), { color: "#222", w: 1 }));
    });
    [[320,"flat",-2,-9],[160,"160",6,-9],[80,"80",6,-9],[40,"40",6,-9],[20,"20",6,-9],[10,"10",6,-9],[5,"5",6,-9]].forEach(([s,t0,dx,dy]: any) => {
      const b = Q(s,1,zt);
      g.push(T(t0, b[0] + dx, b[1] + dy, { size: 13 }));
    });
    [2,4,6,8].forEach((p) => {
      const a = Q(5,p,0);
      g.push(L(a, off(a, [5,1.6]), { color: "#222", w: 1 }), T(String(p), a[0] + 10, a[1] + 8, { size: 13 }));
    });
    [1,3,5,7].forEach((p) => { const a = Q(5,p,0); g.push(L(a, off(a, [4,1.2]), { color: "#222", w: 1 })); });
  };
  wall(projD, 3.33, [0,1,2,3], (z) => String(z));
  wall(projE, 1.105, [0,.5,1], (z) => String(z));
  g.push(T("gaussian SD (σ)", 1043, 533, { rot: -15 * Math.PI / 180 }), T("peak number", 1095, 805, { rot: 43 * Math.PI / 180 }));
  g.push(T("modelled surface height", 743, 695, { rot: Math.PI / 2 }));
  g.push(T("gaussian SD (σ)", 1043, 878, { rot: -15 * Math.PI / 180 }), T("peak number", 1098, 1135, { rot: 43 * Math.PI / 180 }));
  g.push(T("peaking probability", 745, 1045, { rot: Math.PI / 2 }));

  series.push(surfaceSeries(bWidths, bHeights, bZ, (h, w, z) => projB(h, w, z), .846, true));
  series.push(surfaceSeries(peaks, sigmas, dZ, (s, p, z) => projD(s, p, z), 3.03, false));
  series.push(surfaceSeries(peaks, sigmas, eZ, (s, p, z) => projE(s, p, z), 1.05, false));

  g.push({ type: "rect", z: 30, silent: true, shape: { x: 2, y: 2, width: 1241, height: 1187 }, style: { fill: "none", stroke: "#b4b4b4", lineWidth: 2, lineDash: [4, 3] } });

  return { animation: false, backgroundColor: "#fff", grid, xAxis, yAxis, series, graphic: { elements: g } };
}

export default function App() {
  const ref = useRef<HTMLDivElement>(null);
  useEffect(() => {
    const chart = echarts.init(ref.current!, undefined, { renderer: "svg" });
    chart.setOption(buildOption() as any);
    return () => chart.dispose();
  }, []);
  return <div ref={ref} style={{ position: "absolute", left: 0, top: 0, width: 1245, height: 1200 }} />;
}
